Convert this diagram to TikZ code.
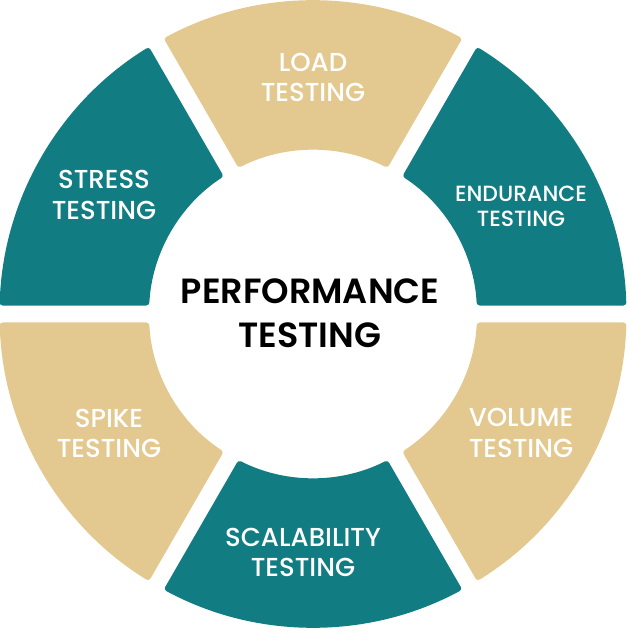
\documentclass[tikz,border=0pt]{standalone}
\usepackage{fontspec}
\setmainfont{Poppins}
\newfontfamily\segfont{Poppins Medium}
\newfontfamily\titlefont{Poppins SemiBold}
\definecolor{ringteal}{RGB}{17,124,130}
\definecolor{ringsand}{RGB}{227,201,144}
\newcommand*{\rin}{164}
\newcommand*{\rout}{313.5}
\newcommand*{\halfgap}{8.5}
\tikzstyle{segment} = [rounded corners=3pt]
\tikzstyle{seglabel} = [text=white, align=center, inner sep=0pt, font=\segfont\fontsize{26}{30.5}\selectfont]
\tikzstyle{smalllabel} = [seglabel, font=\segfont\fontsize{22}{24.5}\selectfont]
\tikzstyle{title} = [align=center, inner sep=0pt, font=\titlefont\fontsize{35}{44}\selectfont]

\begin{document}
\begin{tikzpicture}[x=1pt, y=1pt]
    \useasboundingbox (-313,-317) rectangle (313,314);
    \pgfmathsetmacro{\dout}{asin(\halfgap/\rout)}
    \pgfmathsetmacro{\din}{asin(\halfgap/\rin)}

    % Segments.
    \foreach\a/\col in {0/ringteal, 60/ringsand, 120/ringteal, 180/ringsand, 240/ringteal, 300/ringsand} {
        \fill [segment, fill=\col] (\a+\dout:\rout)
            arc [start angle=\a+\dout, end angle=\a+60-\dout, radius=\rout]
            -- (\a+60-\din:\rin)
            arc [start angle=\a+60-\din, end angle=\a+\din, radius=\rin]
            -- cycle;
    }

    % Labels.
    \node (load) [seglabel] at (0,236.5) {LOAD\\TESTING};
    \node (stress) [seglabel] at (-209,119) {STRESS\\TESTING};
    \node (endurance) [smalllabel] at (208,107.5) {ENDURANCE\\TESTING};
    \node (volume) [seglabel] at (208,-119) {VOLUME\\TESTING};
    \node (spike) [seglabel] at (-204,-119.5) {SPIKE\\TESTING};
    \node (scalability) [seglabel] at (-10,-238.5) {SCALABILITY\\TESTING};
    \node (perf) [title] at (-3,0.5) {PERFORMANCE\\TESTING};
\end{tikzpicture}
\end{document}
